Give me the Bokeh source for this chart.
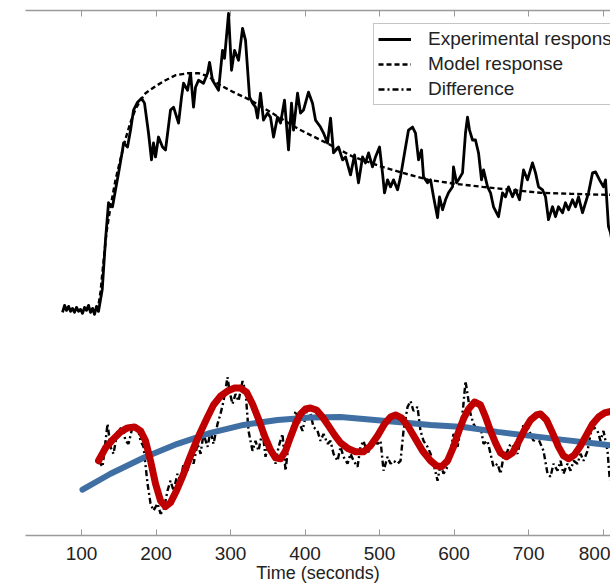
from bokeh.plotting import figure
from bokeh.models import Range1d, LinearAxis, FixedTicker, Legend, LegendItem
from bokeh.embed import file_html
from bokeh.resources import INLINE

# ---------------- data (time in seconds, response in arbitrary units) ----------------
exp_t = [74.5, 77.2, 79.9, 82.6, 85.2, 87.9, 90.6, 93.3, 96.0, 98.7, 101.3, 104.0, 106.7, 109.4, 112.1,
         114.8, 117.4, 120.1, 122.8,
         127.8, 132.2, 136.2, 138.9, 141.6, 145.6, 149.7, 155.0, 156.4, 161.7, 165.8, 169.8, 175.2, 180.5,
         184.5, 189.9, 193.9, 196.6, 199.3, 203.3, 208.7, 212.7, 219.4, 223.5, 230.2, 234.2, 236.9, 242.3,
         246.3, 250.3, 253.0, 257.0, 263.7, 269.1, 271.8, 275.8,
         283.9, 289.2, 291.9, 297.3, 301.3, 305.3, 310.7, 316.1, 320.1, 325.5, 329.5, 333.5, 336.2, 340.2,
         344.2, 349.6, 353.6, 357.7, 363.0, 367.1, 372.4, 377.8, 381.8, 384.5, 389.9, 393.9, 397.9, 404.6,
         410.0, 414.0, 420.7, 424.8, 430.1, 434.2, 438.2, 444.9, 450.3, 454.3, 461.0, 466.4, 471.7, 477.1,
         481.1, 485.2, 490.5, 494.5, 499.9, 503.9, 506.6, 510.7, 514.7, 518.7, 524.1, 528.1, 533.5, 538.8,
         544.2, 548.2, 552.3, 556.3, 559.0, 564.3, 568.4, 572.4, 577.8, 580.4, 584.5, 588.5, 592.5, 597.9,
         599.2, 603.3, 605.9, 611.3, 615.3, 618.0, 620.7, 624.7, 628.7, 632.8, 636.8,
         639.5, 644.9, 648.9, 652.9, 659.6, 665.0, 669.0, 673.0, 678.4, 682.4, 687.8, 693.2, 698.5, 705.2,
         709.3, 713.3, 718.7, 722.7, 726.7, 732.1, 736.1, 740.1, 745.5, 749.5, 753.6, 758.9, 762.9, 767.0,
         772.3, 776.4, 780.4, 785.8, 789.8, 795.2, 800.5, 803.2, 807.2, 809.9, 812.6]
exp_y = [224, 231, 226, 230, 225, 228, 224, 229, 225, 227, 223, 229, 226, 231, 224,
         228, 222, 230, 225,
         247, 297, 334, 331, 330, 347, 364, 387, 394, 390, 407, 427, 435, 439,
         434, 404, 377, 394, 380, 400, 390, 387, 427, 430, 414, 440, 454, 447,
         464, 430, 450, 457, 454, 464, 475, 457,
         447, 487, 479, 524, 467, 487, 477, 509, 497, 440, 434, 430, 419, 444,
         417, 424, 420, 400, 420, 414, 437, 387, 434, 407, 444, 424, 427, 445,
         434, 417, 410, 404, 394, 419, 384, 390, 377, 380, 362, 382, 354, 380,
         374, 384, 370, 380, 390, 364, 344, 357, 350, 357, 347, 360, 384, 407,
         410, 404, 377, 387, 360, 354, 357, 340, 319, 340, 327, 337, 344, 350,
         370, 354, 357, 364, 404, 420, 407, 397, 397, 384, 357,
         367, 350, 344, 330, 320, 344, 340, 350, 340, 347, 337, 367, 357, 374,
         364, 350, 347, 340, 317, 330, 320, 330, 324, 334, 327, 337, 330, 340,
         324, 334, 344, 364, 365, 357, 350, 357, 310, 304, 292]

model_t = [121.5, 125.5, 129.5, 133.6, 138.9, 145.6, 152.3, 159.0, 165.8, 172.5, 179.2, 185.9, 199.3,
           212.7, 226.1, 242.3, 257.0, 270.4, 283.9, 304.0, 326.8, 353.6, 391.2, 428.8, 465.0, 503.9,
           531.0, 565.7, 601.9, 638.1, 675.7, 716.0, 756.2, 803.2, 812.6]
model_y = [225, 245, 275, 305, 330, 357, 378, 398, 415, 428, 437, 444, 451,
           457, 462, 464, 464, 461, 453, 445, 437, 425, 408, 394, 380, 370,
           364, 357, 353, 350, 347, 344, 343, 342, 342]

diff_t = [122.8, 128.2, 134.9, 138.9, 142.9, 148.3, 155.0, 159.0, 163.1, 168.4,
          175.2, 179.2, 183.2, 188.6, 192.6, 196.6, 202.0, 206.0, 210.0, 215.4,
          219.4, 223.5, 228.8, 232.9, 236.9, 242.3, 246.3, 250.3, 255.7, 259.7,
          263.7, 269.1, 273.1, 277.1, 282.5, 286.5, 290.6, 295.9, 298.6, 302.6,
          306.7, 310.7, 316.1, 320.1, 324.1, 329.5, 333.5, 337.5, 342.9, 346.9,
          351.0, 356.3, 360.3, 364.4, 369.7, 373.8, 377.8, 383.2, 387.2, 391.2,
          396.6, 403.3, 407.3, 411.3, 416.7, 420.7, 424.8, 430.1, 434.2, 438.2,
          443.6, 447.6, 451.6, 457.0, 461.0, 465.0, 470.4, 474.4, 478.4, 483.8,
          487.8, 491.9, 497.2, 501.3, 505.3, 510.7, 514.7, 518.7, 524.1, 528.1,
          532.1, 537.5, 541.5, 545.5, 550.9, 554.9, 559.0, 564.3, 568.4, 572.4,
          577.8, 581.8, 585.8, 591.2, 595.2, 599.2, 604.6, 608.6, 612.6, 615.3,
          618.0, 622.0, 626.1, 631.4, 635.5, 639.5, 644.9, 648.9, 652.9, 658.3,
          662.3, 666.3, 671.7, 675.7, 679.7, 685.1, 689.1, 693.2, 698.5, 702.6,
          706.6, 712.0, 716.0, 720.0, 725.4, 729.4, 733.4, 738.8, 742.8, 746.8,
          752.2, 756.2, 760.3, 765.6, 769.7, 773.7, 779.1, 783.1, 787.1, 792.5,
          796.5, 800.5, 805.9, 808.6, 812.6]
diff_y = [75, 69, 112, 89, 82, 105, 109, 95, 92, 109,
          109, 95, 89, 52, 32, 25, 32, 22, 25, 45,
          55, 45, 62, 55, 72, 65, 82, 72, 92, 82,
          102, 89, 105, 92, 112, 122, 135, 159, 145, 132,
          142, 135, 155, 145, 105, 85, 95, 85, 105, 79,
          92, 85, 72, 89, 102, 65, 92, 112, 125, 115,
          105, 129, 122, 109, 105, 95, 102, 92, 95, 82,
          75, 89, 79, 72, 82, 75, 69, 89, 95, 82,
          89, 95, 92, 95, 65, 79, 72, 75, 72, 75,
          105, 129, 135, 125, 129, 105, 95, 89, 82, 72,
          55, 72, 62, 69, 85, 102, 89, 105, 132, 155,
          142, 122, 112, 105, 109, 92, 95, 82, 69, 72,
          62, 79, 85, 92, 89, 82, 95, 112, 109, 102,
          95, 99, 92, 85, 62, 59, 72, 65, 75, 62,
          72, 65, 75, 72, 82, 75, 85, 102, 109, 105,
          95, 105, 85, 59, 52]

trend_t = [101.3, 138.9, 183.2, 228.8, 273.1, 317.4, 363.0, 407.3, 447.6, 478.4, 524.1, 568.4,
           612.6, 658.3, 702.6, 746.8, 792.5, 816.6]
trend_y = [46, 62, 78, 92, 103, 111, 116, 118.5, 119, 117, 114, 111,
           109, 104, 100, 96, 92, 90]

fit_t = [122.8, 132.2, 142.9, 152.3, 161.7, 171.1, 179.2, 185.9, 192.6, 199.3,
         206.0, 212.7, 219.4, 227.5, 235.5, 243.6, 251.6, 259.7, 269.1, 277.1,
         286.5, 295.9, 305.3, 313.4, 321.4, 329.5, 337.5, 345.6, 353.6, 360.3,
         367.1, 373.8, 380.5, 387.2, 393.9, 400.6, 407.3, 415.4, 423.4, 431.5,
         439.5, 447.6, 458.3, 467.7, 478.4, 487.8, 497.2, 506.6, 514.7, 521.4,
         529.4, 538.8, 548.2, 557.6, 568.4, 576.4, 583.1, 591.2, 599.2, 605.9,
         612.6, 619.4, 627.4, 635.5, 642.2, 648.9, 655.6, 662.3, 670.3, 678.4,
         686.5, 694.5, 702.6, 710.6, 716.0, 724.1, 732.1, 740.1, 746.8, 753.6,
         761.6, 769.7, 777.7, 785.8, 793.9, 801.9, 812.6]
fit_y = [75, 88, 97, 104, 108, 109, 105, 95, 75, 52,
         35, 29, 33, 45, 59, 75, 90, 104, 119, 131,
         140, 145, 148, 148, 144, 132, 117, 100, 86, 78,
         77, 85, 99, 112, 122, 127, 128, 126, 119, 110,
         101, 93, 87, 84, 84, 90, 100, 112, 119, 121,
         118, 109, 97, 85, 75, 70, 69, 75, 89, 104,
         117, 127, 134, 131, 119, 105, 93, 83, 79, 83,
         94, 106, 116, 121, 122, 116, 103, 89, 80, 77,
         81, 90, 101, 112, 119, 123, 125]

tick_values = [100, 200, 300, 400, 500, 600, 700, 800]
x_label = "Time (seconds)"
legend_labels = ["Experimental response", "Model response", "Difference"]

# ---------------- figure ----------------
FONT = "Liberation Sans"
TEXT = "#222222"
AXIS = "#9a9a9a"

p = figure(width=610, height=585, x_range=Range1d(24.8, 809.9), y_range=Range1d(0, 527),
           output_backend="svg", toolbar_location=None,
           x_axis_location=None, y_axis_location=None,
           min_border_left=25, min_border_right=0, min_border_top=10, min_border_bottom=48)
p.outline_line_color = None
p.background_fill_color = "white"
p.border_fill_color = "white"
p.grid.visible = False
for g in list(p.center):
    if g.__class__.__name__ == "Grid":
        g.visible = False

r_diff = p.line(diff_t, diff_y, line_color="black", line_width=2.4, line_dash="6 3 2 3")
r_exp = p.line(exp_t, exp_y, line_color="black", line_width=2.8, line_join="round")
r_model = p.line(model_t, model_y, line_color="black", line_width=2.4, line_dash="5 3")
p.line(trend_t, trend_y, line_color="#3f6fa3", line_width=6, line_join="round", line_cap="round")
p.line(fit_t, fit_y, line_color="#c00000", line_width=7, line_join="round", line_cap="round")

xb = LinearAxis(ticker=FixedTicker(ticks=tick_values), axis_label=x_label)
xb.axis_line_color = AXIS
xb.axis_line_width = 1.5
xb.major_tick_in = 6
xb.major_tick_out = 0
xb.major_tick_line_color = AXIS
xb.minor_tick_line_color = None
xb.major_label_text_font = FONT
xb.major_label_text_font_size = "19px"
xb.major_label_text_color = TEXT
xb.major_label_standoff = 11
xb.axis_label_text_font = FONT
xb.axis_label_text_font_size = "18px"
xb.axis_label_text_font_style = "normal"
xb.axis_label_text_color = TEXT
xb.axis_label_standoff = 0
p.add_layout(xb, "below")

xt = LinearAxis(ticker=FixedTicker(ticks=tick_values))
xt.axis_line_color = AXIS
xt.axis_line_width = 1.5
xt.major_tick_in = 6
xt.major_tick_out = 0
xt.major_tick_line_color = AXIS
xt.minor_tick_line_color = None
xt.major_label_overrides = {v: "" for v in tick_values}
xt.major_label_standoff = 0
p.add_layout(xt, "above")

legend = Legend(items=[LegendItem(label=legend_labels[0], renderers=[r_exp]),
                       LegendItem(label=legend_labels[1], renderers=[r_model]),
                       LegendItem(label=legend_labels[2], renderers=[r_diff])],
                location=(348, 430))
legend.label_text_font = FONT
legend.label_text_font_size = "19px"
legend.label_text_color = TEXT
legend.glyph_width = 33
legend.glyph_height = 20
legend.label_height = 20
legend.label_standoff = 17
legend.spacing = 3
legend.padding = 4
legend.margin = 0
legend.border_line_color = "#8c8c8c"
legend.border_line_width = 1.5
legend.background_fill_color = "white"
legend.background_fill_alpha = 1
p.add_layout(legend)

open("out.html", "w").write(file_html(p, INLINE))
